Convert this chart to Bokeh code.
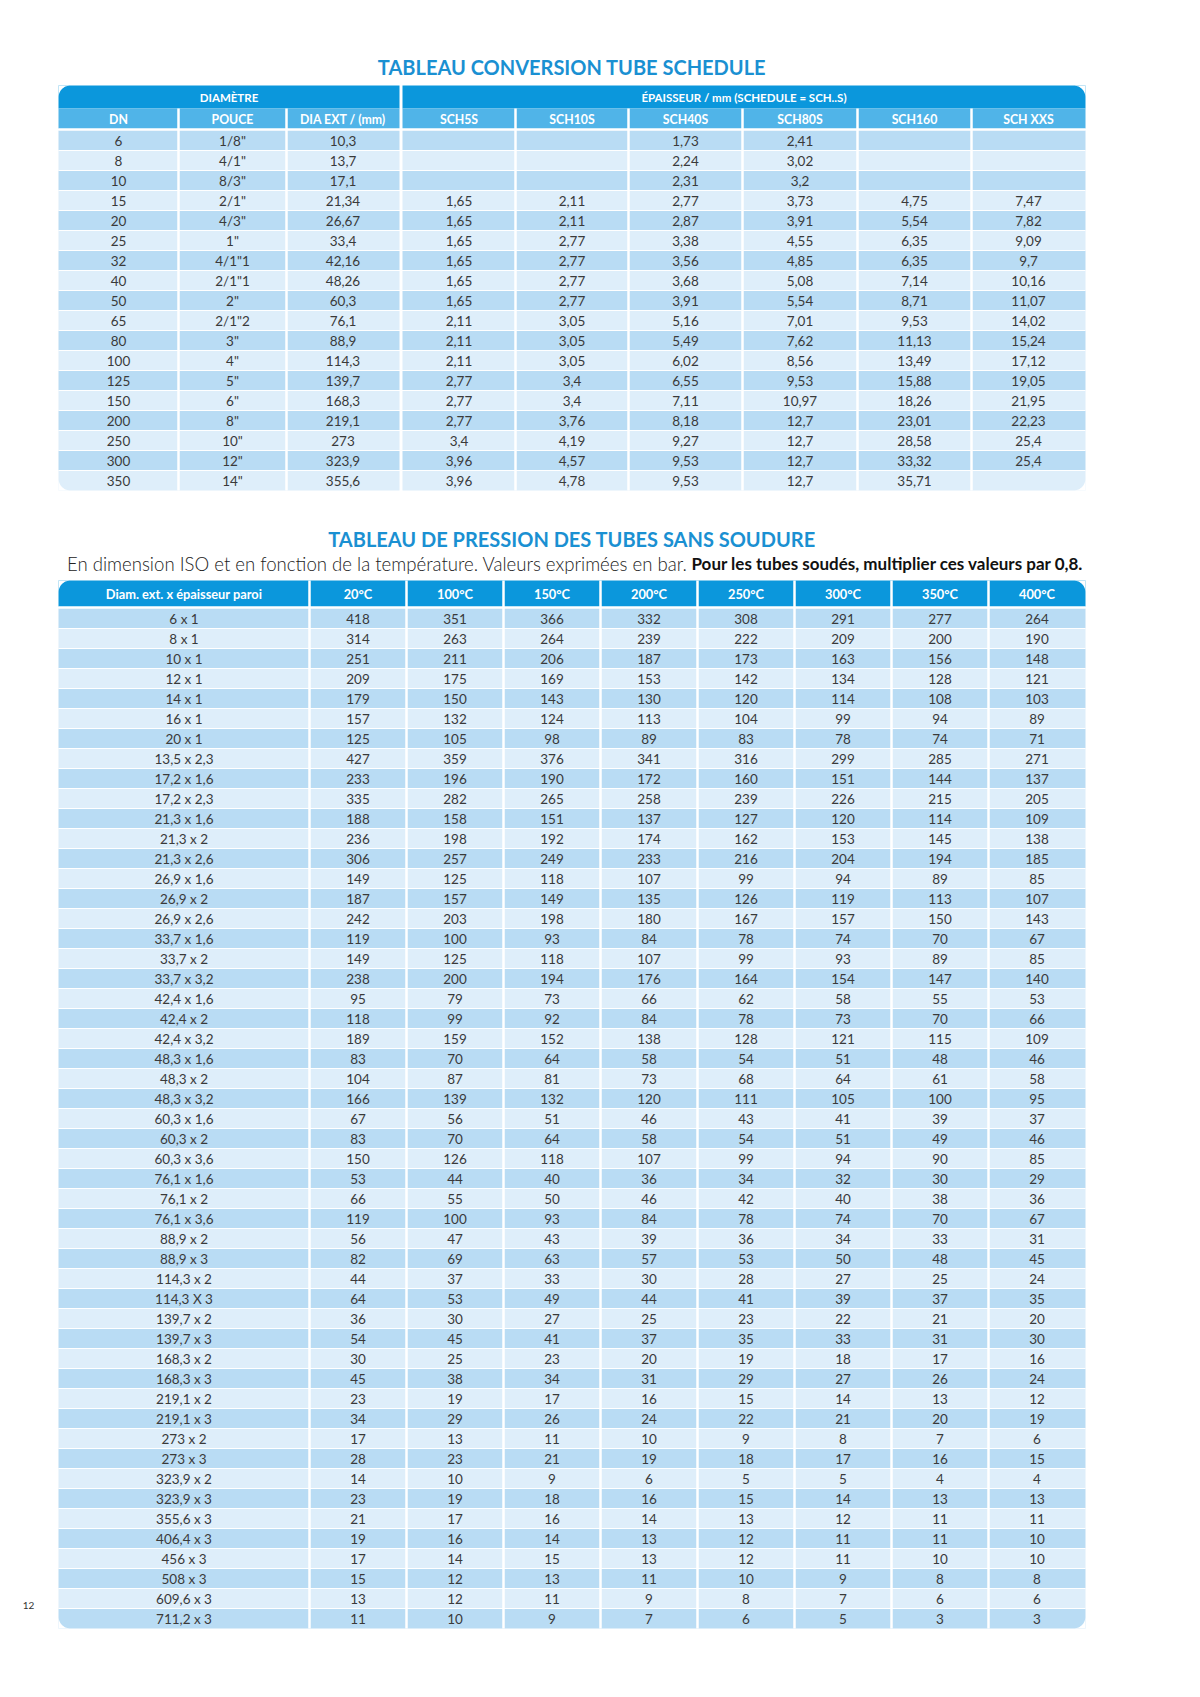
import math
from bokeh.plotting import figure
from bokeh.models import ColumnDataSource, Range1d
from bokeh.core.properties import value
from bokeh.embed import file_html
from bokeh.resources import INLINE

# ---------------- DATA ----------------
title1 = "TABLEAU CONVERSION TUBE SCHEDULE"
t1_group_headers = ["DIAMÈTRE", "ÉPAISSEUR / mm (SCHEDULE = SCH..S)"]
t1_headers = ["DN", "POUCE", "DIA EXT / (mm)", "SCH5S", "SCH10S", "SCH40S", "SCH80S", "SCH160", "SCH XXS"]
dn = [6, 8, 10, 15, 20, 25, 32, 40, 50, 65, 80, 100, 125, 150, 200, 250, 300, 350]
pouce = ['1/8"', '4/1"', '8/3"', '2/1"', '4/3"', '1"', '4/1"1', '2/1"1', '2"', '2/1"2',
         '3"', '4"', '5"', '6"', '8"', '10"', '12"', '14"']
dia_ext = [10.3, 13.7, 17.1, 21.34, 26.67, 33.4, 42.16, 48.26, 60.3, 76.1, 88.9, 114.3,
           139.7, 168.3, 219.1, 273, 323.9, 355.6]
sch5s = [None, None, None, 1.65, 1.65, 1.65, 1.65, 1.65, 1.65, 2.11, 2.11, 2.11, 2.77, 2.77,
         2.77, 3.4, 3.96, 3.96]
sch10s = [None, None, None, 2.11, 2.11, 2.77, 2.77, 2.77, 2.77, 3.05, 3.05, 3.05, 3.4, 3.4,
          3.76, 4.19, 4.57, 4.78]
sch40s = [1.73, 2.24, 2.31, 2.77, 2.87, 3.38, 3.56, 3.68, 3.91, 5.16, 5.49, 6.02, 6.55, 7.11,
          8.18, 9.27, 9.53, 9.53]
sch80s = [2.41, 3.02, 3.2, 3.73, 3.91, 4.55, 4.85, 5.08, 5.54, 7.01, 7.62, 8.56, 9.53, 10.97,
          12.7, 12.7, 12.7, 12.7]
sch160 = [None, None, None, 4.75, 5.54, 6.35, 6.35, 7.14, 8.71, 9.53, 11.13, 13.49, 15.88,
          18.26, 23.01, 28.58, 33.32, 35.71]
schxxs = [None, None, None, 7.47, 7.82, 9.09, 9.7, 10.16, 11.07, 14.02, 15.24, 17.12, 19.05,
          21.95, 22.23, 25.4, 25.4, None]

title2 = "TABLEAU DE PRESSION DES TUBES SANS SOUDURE"
subtitle_normal = "En dimension ISO et en fonction de la température. Valeurs exprimées en bar."
subtitle_bold = "Pour les tubes soudés, multiplier ces valeurs par 0,8."
t2_headers = ["Diam. ext. x épaisseur paroi", "20°C", "100°C", "150°C", "200°C", "250°C",
              "300°C", "350°C", "400°C"]
dims = ["6 x 1", "8 x 1", "10 x 1", "12 x 1", "14 x 1", "16 x 1", "20 x 1", "13,5 x 2,3",
        "17,2 x 1,6", "17,2 x 2,3", "21,3 x 1,6", "21,3 x 2", "21,3 x 2,6", "26,9 x 1,6",
        "26,9 x 2", "26,9 x 2,6", "33,7 x 1,6", "33,7 x 2", "33,7 x 3,2", "42,4 x 1,6",
        "42,4 x 2", "42,4 x 3,2", "48,3 x 1,6", "48,3 x 2", "48,3 x 3,2", "60,3 x 1,6",
        "60,3 x 2", "60,3 x 3,6", "76,1 x 1,6", "76,1 x 2", "76,1 x 3,6", "88,9 x 2",
        "88,9 x 3", "114,3 x 2", "114,3 X 3", "139,7 x 2", "139,7 x 3", "168,3 x 2",
        "168,3 x 3", "219,1 x 2", "219,1 x 3", "273 x 2", "273 x 3", "323,9 x 2", "323,9 x 3",
        "355,6 x 3", "406,4 x 3", "456 x 3", "508 x 3", "609,6 x 3", "711,2 x 3"]
p20 = [418, 314, 251, 209, 179, 157, 125, 427, 233, 335, 188, 236, 306, 149, 187, 242, 119,
       149, 238, 95, 118, 189, 83, 104, 166, 67, 83, 150, 53, 66, 119, 56, 82, 44, 64, 36, 54,
       30, 45, 23, 34, 17, 28, 14, 23, 21, 19, 17, 15, 13, 11]
p100 = [351, 263, 211, 175, 150, 132, 105, 359, 196, 282, 158, 198, 257, 125, 157, 203, 100,
        125, 200, 79, 99, 159, 70, 87, 139, 56, 70, 126, 44, 55, 100, 47, 69, 37, 53, 30, 45,
        25, 38, 19, 29, 13, 23, 10, 19, 17, 16, 14, 12, 12, 10]
p150 = [366, 264, 206, 169, 143, 124, 98, 376, 190, 265, 151, 192, 249, 118, 149, 198, 93,
        118, 194, 73, 92, 152, 64, 81, 132, 51, 64, 118, 40, 50, 93, 43, 63, 33, 49, 27, 41,
        23, 34, 17, 26, 11, 21, 9, 18, 16, 14, 15, 13, 11, 9]
p200 = [332, 239, 187, 153, 130, 113, 89, 341, 172, 258, 137, 174, 233, 107, 135, 180, 84,
        107, 176, 66, 84, 138, 58, 73, 120, 46, 58, 107, 36, 46, 84, 39, 57, 30, 44, 25, 37,
        20, 31, 16, 24, 10, 19, 6, 16, 14, 13, 13, 11, 9, 7]
p250 = [308, 222, 173, 142, 120, 104, 83, 316, 160, 239, 127, 162, 216, 99, 126, 167, 78,
        99, 164, 62, 78, 128, 54, 68, 111, 43, 54, 99, 34, 42, 78, 36, 53, 28, 41, 23, 35,
        19, 29, 15, 22, 9, 18, 5, 15, 13, 12, 12, 10, 8, 6]
p300 = [291, 209, 163, 134, 114, 99, 78, 299, 151, 226, 120, 153, 204, 94, 119, 157, 74,
        93, 154, 58, 73, 121, 51, 64, 105, 41, 51, 94, 32, 40, 74, 34, 50, 27, 39, 22, 33,
        18, 27, 14, 21, 8, 17, 5, 14, 12, 11, 11, 9, 7, 5]
p350 = [277, 200, 156, 128, 108, 94, 74, 285, 144, 215, 114, 145, 194, 89, 113, 150, 70,
        89, 147, 55, 70, 115, 48, 61, 100, 39, 49, 90, 30, 38, 70, 33, 48, 25, 37, 21, 31,
        17, 26, 13, 20, 7, 16, 4, 13, 11, 11, 10, 8, 6, 3]
p400 = [264, 190, 148, 121, 103, 89, 71, 271, 137, 205, 109, 138, 185, 85, 107, 143, 67,
        85, 140, 53, 66, 109, 46, 58, 95, 37, 46, 85, 29, 36, 67, 31, 45, 24, 35, 20, 30,
        16, 24, 12, 19, 6, 15, 4, 13, 11, 10, 10, 8, 6, 3]
page_number = "12"

# ---------------- STYLE / LAYOUT ----------------
FONT = "Lato"
C_TITLE = "#1a90d2"
C_HEAD1 = "#0b97dc"
C_HEAD2 = "#50b4e8"
C_ROW_A = "#b9dcf4"
C_ROW_B = "#deeefa"
C_TEXT = "#3a3a3a"
RADIUS = 12

T1_LEFT_EDGES = [58, 178, 286, 399]
T1_RIGHT_EDGES = [402, 515, 628, 742, 857, 971, 1085]
T1_H1 = (85, 108)
T1_H2 = (108, 128)
T1_BODY_TOP = 130
ROW_H = 20

T2_EDGES = [58, 309, 406, 503, 600, 697, 794, 891, 988, 1085]
T2_HEAD = (580, 606)
T2_BODY_TOP = 608

W, H = 1184, 1681
p = figure(width=W, height=H, x_range=Range1d(0, W), y_range=Range1d(H, 0),
           output_backend="svg", toolbar_location=None, min_border=0)
p.axis.visible = False
p.grid.visible = False
p.outline_line_color = None
p.background_fill_color = "white"
p.border_fill_color = "white"


def fmt(v):
    return "" if v is None else str(v).replace(".", ",")


def quads(l, r, t, b, colors):
    p.quad(left=l, right=r, top=t, bottom=b, fill_color=colors, line_color=None)


def texts(xs, ys, txt, size, color=C_TEXT, bold=False, align="center", font=FONT):
    src = ColumnDataSource(dict(x=xs, y=ys, t=txt))
    p.text(x="x", y="y", text="t", source=src, text_font=value(font),
           text_font_size=size, text_color=color, text_align=align,
           text_baseline="middle", text_font_style="bold" if bold else "normal")


def corner_mask(x0, y0, kind):
    r = RADIUS
    sx = 1 if kind in ("tl", "bl") else -1
    sy = 1 if kind in ("tl", "tr") else -1
    cx, cy = x0 + sx * r, y0 + sy * r
    xs, ys = [x0], [y0]
    for k in range(0, 19):
        a = math.pi / 2 * k / 18
        xs.append(cx - sx * r * math.cos(a))
        ys.append(cy - sy * r * math.sin(a))
    p.patch(xs, ys, fill_color="white", line_color=None)


def vlines(xs, top, bottom, width):
    p.segment(x0=xs, y0=[top] * len(xs), x1=xs, y1=[bottom] * len(xs),
              line_color="white", line_width=width)


def hlines(ys, left, right, width):
    p.segment(x0=[left] * len(ys), y0=ys, x1=[right] * len(ys), y1=ys,
              line_color="white", line_width=width)


# ---------------- TABLE 1 ----------------
texts([571.5], [66], [title1], "20px", color=C_TITLE, bold=True)

n1 = len(dn)
t1_bottom = T1_BODY_TOP + n1 * ROW_H
quads([T1_LEFT_EDGES[0], T1_RIGHT_EDGES[0]], [T1_LEFT_EDGES[-1], T1_RIGHT_EDGES[-1]],
      [T1_H1[0]] * 2, [T1_H1[1]] * 2, [C_HEAD1] * 2)
quads([T1_LEFT_EDGES[0], T1_RIGHT_EDGES[0]], [T1_LEFT_EDGES[-1], T1_RIGHT_EDGES[-1]],
      [T1_H2[0]] * 2, [T1_H2[1]] * 2, [C_HEAD2] * 2)
tops = [T1_BODY_TOP + i * ROW_H for i in range(n1)]
cols = [C_ROW_A if i % 2 == 0 else C_ROW_B for i in range(n1)]
quads([T1_LEFT_EDGES[0]] * n1, [T1_LEFT_EDGES[-1]] * n1, tops, [t + ROW_H for t in tops], cols)
quads([T1_RIGHT_EDGES[0]] * n1, [T1_RIGHT_EDGES[-1]] * n1, tops, [t + ROW_H for t in tops], cols)
hlines(tops[1:], 58, 1085, 1)
hlines([T1_H2[1] + 1], 58, 1085, 2)
inner = T1_LEFT_EDGES[1:-1] + T1_RIGHT_EDGES[1:-1]
vlines(inner, T1_H2[0], t1_bottom, 2.5)
corner_mask(58, T1_H1[0], "tl")
corner_mask(1085, T1_H1[0], "tr")
corner_mask(58, t1_bottom, "bl")
corner_mask(1085, t1_bottom, "br")

texts([(T1_LEFT_EDGES[0] + T1_LEFT_EDGES[-1]) / 2, (T1_RIGHT_EDGES[0] + T1_RIGHT_EDGES[-1]) / 2],
      [(T1_H1[0] + T1_H1[1]) / 2 + 0.5] * 2, t1_group_headers, "11.5px", color="white", bold=True)
centers1 = [(a + b) / 2 for a, b in zip(T1_LEFT_EDGES[:-1], T1_LEFT_EDGES[1:])] + \
           [(a + b) / 2 for a, b in zip(T1_RIGHT_EDGES[:-1], T1_RIGHT_EDGES[1:])]
texts(centers1, [(T1_H2[0] + T1_H2[1]) / 2 + 0.5] * len(centers1), t1_headers, "12.3px",
      color="white", bold=True)
t1_cols = [dn, pouce, dia_ext, sch5s, sch10s, sch40s, sch80s, sch160, schxxs]
for cx, colvals in zip(centers1, t1_cols):
    texts([cx] * n1, [t + ROW_H / 2 + 0.5 for t in tops], [fmt(v) for v in colvals], "13.5px")

# ---------------- TABLE 2 ----------------
texts([571.5], [538], [title2], "20px", color=C_TITLE, bold=True)
texts([687], [563], [subtitle_normal], "18.6px", color="#222222", align="right",
      font="'Lato Light', Lato")
texts([691], [563], [subtitle_bold], "17px", color="#111111", bold=True, align="left")

n2 = len(dims)
t2_bottom = T2_BODY_TOP + n2 * ROW_H
quads([T2_EDGES[0]], [T2_EDGES[-1]], [T2_HEAD[0]], [T2_HEAD[1]], [C_HEAD1])
tops2 = [T2_BODY_TOP + i * ROW_H for i in range(n2)]
cols2 = [C_ROW_A if i % 2 == 0 else C_ROW_B for i in range(n2)]
quads([T2_EDGES[0]] * n2, [T2_EDGES[-1]] * n2, tops2, [t + ROW_H for t in tops2], cols2)
hlines(tops2[1:], 58, 1085, 1)
hlines([T2_HEAD[1] + 1], 58, 1085, 2)
vlines(T2_EDGES[1:-1], T2_HEAD[0], t2_bottom, 2.5)
corner_mask(58, T2_HEAD[0], "tl")
corner_mask(1085, T2_HEAD[0], "tr")
corner_mask(58, t2_bottom, "bl")
corner_mask(1085, t2_bottom, "br")

centers2 = [(a + b) / 2 for a, b in zip(T2_EDGES[:-1], T2_EDGES[1:])]
texts(centers2, [(T2_HEAD[0] + T2_HEAD[1]) / 2 + 0.5] * len(centers2), t2_headers, "12.8px",
      color="white", bold=True)
t2_cols = [dims, p20, p100, p150, p200, p250, p300, p350, p400]
for cx, colvals in zip(centers2, t2_cols):
    texts([cx] * n2, [t + ROW_H / 2 + 0.5 for t in tops2], [fmt(v) for v in colvals], "13.5px")

texts([28], [1605], [page_number], "10px", color="#333333")

open("out.html", "w").write(file_html(p, INLINE))
